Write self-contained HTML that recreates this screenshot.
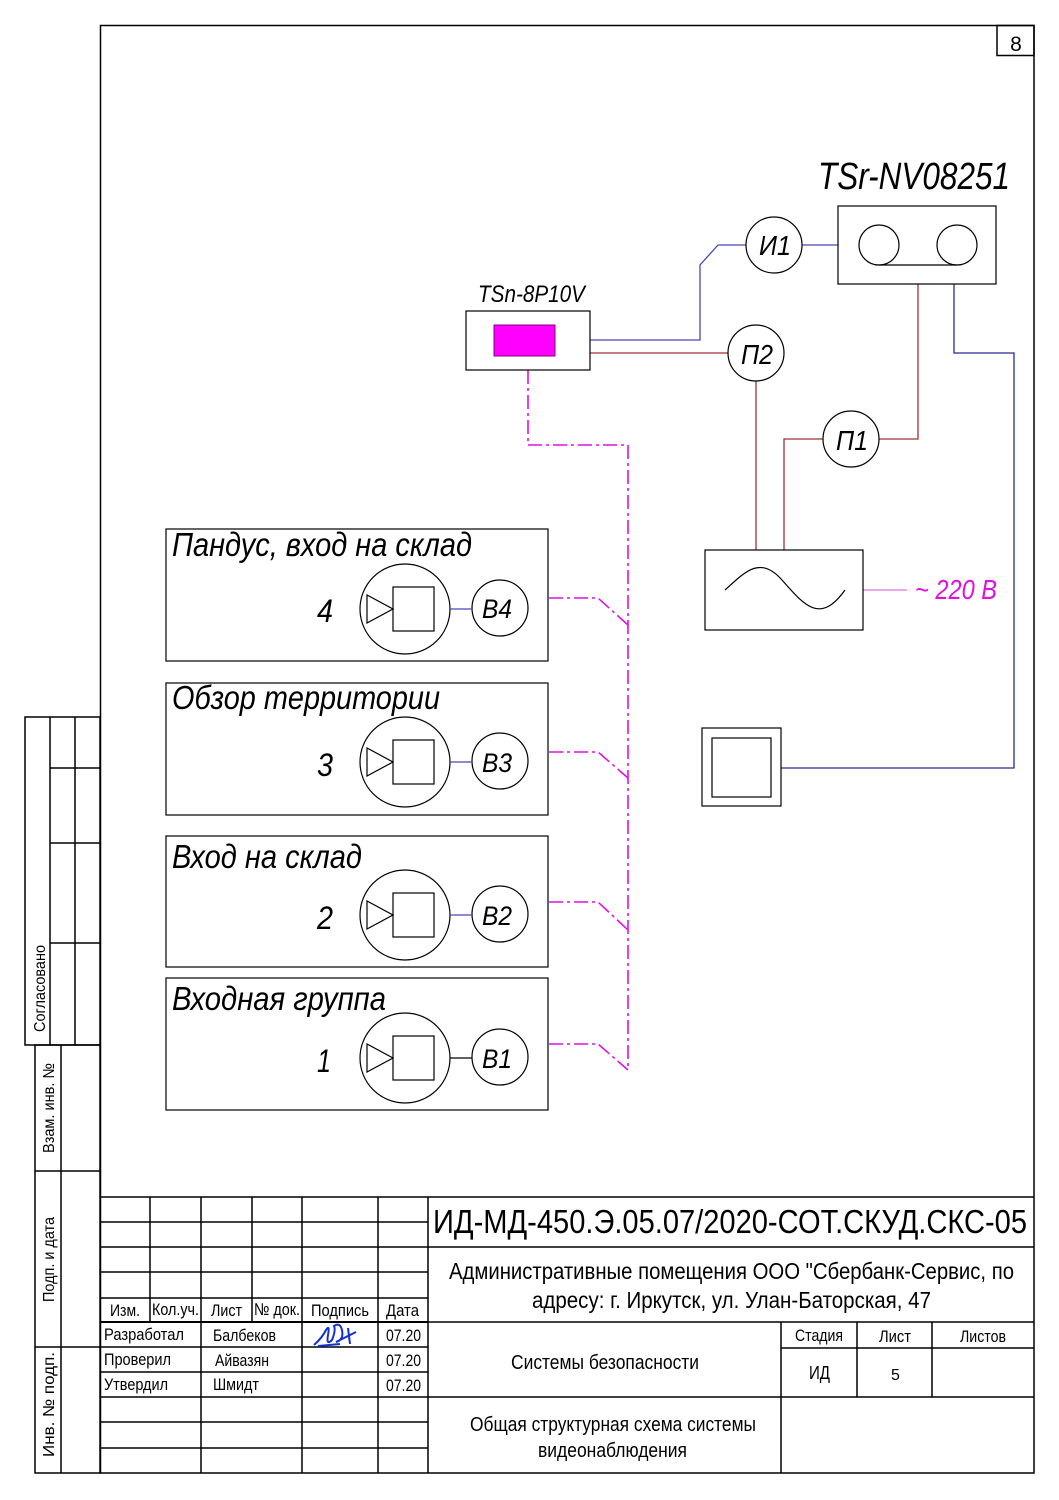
<!DOCTYPE html>
<html><head><meta charset="utf-8">
<style>
html,body{margin:0;padding:0;background:#fff;}
svg{display:block;}
text{font-family:"Liberation Sans",sans-serif;fill:#000;}
.it{font-style:italic;}
</style></head>
<body>
<svg width="1059" height="1500" viewBox="0 0 1059 1500" xmlns="http://www.w3.org/2000/svg">
<rect x="0" y="0" width="1059" height="1500" fill="#fff"/>
<g fill="none" stroke="#000" stroke-width="1.5">
<rect x="100.5" y="25.5" width="933.5" height="1447.5"/>
<rect x="997" y="25.5" width="37" height="30"/>
<rect x="25" y="717" width="75" height="328"/>
<line x1="50" y1="717" x2="50" y2="1045"/>
<line x1="75" y1="717" x2="75" y2="1045"/>
<line x1="50" y1="768" x2="100" y2="768"/>
<line x1="50" y1="843" x2="100" y2="843"/>
<line x1="50" y1="943" x2="100" y2="943"/>
<rect x="35" y="1045" width="65" height="428"/>
<line x1="61" y1="1045" x2="61" y2="1473"/>
<line x1="35" y1="1171" x2="100" y2="1171"/>
<line x1="35" y1="1347" x2="100" y2="1347"/>
</g>
<text x="1016" y="51" font-size="21" text-anchor="middle">8</text>
<text transform="translate(45,1032) rotate(-90)" font-size="16" textLength="87" lengthAdjust="spacingAndGlyphs">Согласовано</text>
<text transform="translate(54,1153) rotate(-90)" font-size="16" textLength="90" lengthAdjust="spacingAndGlyphs">Взам. инв. №</text>
<text transform="translate(54,1302) rotate(-90)" font-size="16" textLength="85" lengthAdjust="spacingAndGlyphs">Подп. и дата</text>
<text transform="translate(54,1457) rotate(-90)" font-size="16" textLength="105" lengthAdjust="spacingAndGlyphs">Инв. № подп.</text>

<g fill="none" stroke="#000" stroke-width="1.5">
<line x1="100" y1="1197" x2="1034" y2="1197"/>
<line x1="428" y1="1197" x2="428" y2="1473"/>
<line x1="150" y1="1197" x2="150" y2="1322"/>
<line x1="252" y1="1197" x2="252" y2="1322"/>
<line x1="201" y1="1197" x2="201" y2="1473"/>
<line x1="302" y1="1197" x2="302" y2="1473"/>
<line x1="378" y1="1197" x2="378" y2="1473"/>
<line x1="100" y1="1222" x2="428" y2="1222"/>
<line x1="100" y1="1247" x2="428" y2="1247"/>
<line x1="100" y1="1272" x2="428" y2="1272"/>
<line x1="100" y1="1298" x2="428" y2="1298"/>
<line x1="100" y1="1322" x2="428" y2="1322" stroke-width="2"/>
<line x1="100" y1="1347" x2="428" y2="1347"/>
<line x1="100" y1="1372" x2="428" y2="1372"/>
<line x1="100" y1="1397" x2="428" y2="1397"/>
<line x1="100" y1="1422" x2="428" y2="1422"/>
<line x1="100" y1="1448" x2="428" y2="1448"/>
<line x1="428" y1="1247" x2="1034" y2="1247"/>
<line x1="428" y1="1322" x2="1034" y2="1322"/>
<line x1="428" y1="1397" x2="1034" y2="1397"/>
<line x1="781" y1="1322" x2="781" y2="1473"/>
<line x1="857" y1="1322" x2="857" y2="1397"/>
<line x1="932" y1="1322" x2="932" y2="1397"/>
<line x1="781" y1="1348" x2="1034" y2="1348"/>
</g>
<text x="433" y="1233" font-size="33" textLength="594" lengthAdjust="spacingAndGlyphs">ИД-МД-450.Э.05.07/2020-СОТ.СКУД.СКС-05</text>
<text x="449" y="1279" font-size="23" textLength="565" lengthAdjust="spacingAndGlyphs">Административные помещения ООО "Сбербанк-Сервис, по</text>
<text x="532" y="1308" font-size="23" textLength="399" lengthAdjust="spacingAndGlyphs">адресу: г. Иркутск, ул. Улан-Баторская, 47</text>
<text x="511" y="1369" font-size="20" textLength="188" lengthAdjust="spacingAndGlyphs">Системы безопасности</text>
<text x="470" y="1431" font-size="20" textLength="286" lengthAdjust="spacingAndGlyphs">Общая структурная схема системы</text>
<text x="538" y="1457" font-size="20" textLength="149" lengthAdjust="spacingAndGlyphs">видеонаблюдения</text>
<text x="795" y="1341" font-size="17" textLength="48" lengthAdjust="spacingAndGlyphs">Стадия</text>
<text x="879" y="1342" font-size="17" textLength="32" lengthAdjust="spacingAndGlyphs">Лист</text>
<text x="960" y="1342" font-size="17" textLength="46" lengthAdjust="spacingAndGlyphs">Листов</text>
<text x="809" y="1379" font-size="18" textLength="21" lengthAdjust="spacingAndGlyphs">ИД</text>
<text x="891" y="1380" font-size="16">5</text>

<text x="110" y="1316" font-size="17" textLength="30" lengthAdjust="spacingAndGlyphs">Изм.</text>
<text x="152" y="1315" font-size="17" textLength="47" lengthAdjust="spacingAndGlyphs">Кол.уч.</text>
<text x="211" y="1316" font-size="17" textLength="31" lengthAdjust="spacingAndGlyphs">Лист</text>
<text x="254" y="1315" font-size="17" textLength="46" lengthAdjust="spacingAndGlyphs">№ док.</text>
<text x="311" y="1316" font-size="17" textLength="58" lengthAdjust="spacingAndGlyphs">Подпись</text>
<text x="386" y="1316" font-size="17" textLength="33" lengthAdjust="spacingAndGlyphs">Дата</text>
<text x="104" y="1340" font-size="17" textLength="80" lengthAdjust="spacingAndGlyphs">Разработал</text>
<text x="213" y="1341" font-size="17" textLength="63" lengthAdjust="spacingAndGlyphs">Балбеков</text>
<text x="386" y="1341" font-size="17" textLength="35" lengthAdjust="spacingAndGlyphs">07.20</text>
<text x="104" y="1365" font-size="17" textLength="67" lengthAdjust="spacingAndGlyphs">Проверил</text>
<text x="215" y="1366" font-size="17" textLength="54" lengthAdjust="spacingAndGlyphs">Айвазян</text>
<text x="386" y="1366" font-size="17" textLength="35" lengthAdjust="spacingAndGlyphs">07.20</text>
<text x="104" y="1390" font-size="17" textLength="64" lengthAdjust="spacingAndGlyphs">Утвердил</text>
<text x="213" y="1390" font-size="17" textLength="46" lengthAdjust="spacingAndGlyphs">Шмидт</text>
<text x="386" y="1391" font-size="17" textLength="35" lengthAdjust="spacingAndGlyphs">07.20</text>
<path d="M314,1345 Q322,1338 326,1330 Q330,1324 328,1335 Q326,1346 332,1340 Q336,1330 334,1326 Q340,1322 342,1330 Q344,1340 336,1342 L356,1332 M348,1328 L350,1344 M318,1346 L340,1344" fill="none" stroke="#1530d0" stroke-width="2"/>

<g fill="none" stroke-width="1.3">
<path d="M590,340 H700 V265 L718,245 H746" stroke="#4848b0"/>
<path d="M802,245 H838" stroke="#4848b0"/>
<path d="M590,353 H728" stroke="#a03030"/>
<path d="M756,381 V550" stroke="#a03030"/>
<path d="M918,284 V439 H879" stroke="#a03030"/>
<path d="M823,439 H784 V550" stroke="#a03030"/>
<path d="M954,284 V353 H1014 V768 H781" stroke="#2a2a90"/>
<path d="M863,590 H907" stroke="#e070e0"/>
<g stroke="#e010e0" stroke-width="1.6" stroke-dasharray="14,4,3,4">
<path d="M528,370 V445 H628 V1070"/>
<path d="M549,598 H598 L628,625"/>
<path d="M549,752 H598 L628,778"/>
<path d="M549,902 H598 L628,930"/>
<path d="M549,1044 H598 L628,1070"/>
</g>
</g>

<text x="818" y="189" font-size="38" class="it" textLength="192" lengthAdjust="spacingAndGlyphs">TSr-NV08251</text>
<g fill="none" stroke="#000" stroke-width="1.2">
<rect x="838" y="206" width="158" height="78"/>
<circle cx="879" cy="245" r="20"/>
<circle cx="957" cy="245" r="20"/>
<line x1="879" y1="265" x2="957" y2="265"/>
<circle cx="774" cy="245" r="28"/>
<circle cx="756" cy="353" r="28"/>
<circle cx="851" cy="439" r="28"/>
<rect x="466" y="311" width="124" height="59"/>
<rect x="705" y="550" width="158" height="80"/>
<path d="M725,590 C745,572 760,555 782,580 S820,625 845,590"/>
<rect x="702" y="728" width="79" height="78"/>
<rect x="712" y="738" width="59" height="59"/>
</g>
<rect x="494" y="325" width="61" height="31" fill="#ff00ff" stroke="#800080" stroke-width="1"/>
<text x="478" y="302" font-size="24" class="it" textLength="107" lengthAdjust="spacingAndGlyphs">TSn-8P10V</text>
<text x="759" y="255" font-size="28" class="it" textLength="32" lengthAdjust="spacingAndGlyphs">И1</text>
<text x="741" y="364" font-size="28" class="it" textLength="32" lengthAdjust="spacingAndGlyphs">П2</text>
<text x="836" y="450" font-size="28" class="it" textLength="32" lengthAdjust="spacingAndGlyphs">П1</text>
<text x="915" y="599" font-size="28" class="it" style="fill:#e010e0" textLength="82" lengthAdjust="spacingAndGlyphs">~ 220 В</text>

<g fill="none" stroke="#000" stroke-width="1.2">
<rect x="166" y="529" width="382" height="132"/>
<rect x="166" y="683" width="382" height="132"/>
<rect x="166" y="836" width="382" height="131"/>
<rect x="166" y="978" width="382" height="132"/>
</g>
<g id="cam" fill="none" stroke="#000" stroke-width="1.2">
<circle cx="405" cy="609" r="45"/>
<path d="M367,595 V623 L393,609 Z"/>
<rect x="393" y="587" width="41" height="44"/>
<circle cx="500" cy="608" r="28"/>
</g>
<use href="#cam" transform="translate(0,153)"/>
<use href="#cam" transform="translate(0,306)"/>
<use href="#cam" transform="translate(0,449)"/>
<g stroke-width="1.3">
<line x1="450" y1="609" x2="472" y2="609" stroke="#4848b0"/>
<line x1="450" y1="762" x2="472" y2="762" stroke="#4848b0"/>
<line x1="450" y1="915" x2="472" y2="915" stroke="#4848b0"/>
<line x1="450" y1="1058" x2="472" y2="1058" stroke="#000"/>
</g>
<text x="172" y="556" font-size="33" class="it" textLength="300" lengthAdjust="spacingAndGlyphs">Пандус, вход на склад</text>
<text x="172" y="709" font-size="33" class="it" textLength="268" lengthAdjust="spacingAndGlyphs">Обзор территории</text>
<text x="172" y="868" font-size="33" class="it" textLength="190" lengthAdjust="spacingAndGlyphs">Вход на склад</text>
<text x="172" y="1010" font-size="33" class="it" textLength="214" lengthAdjust="spacingAndGlyphs">Входная группа</text>
<text x="317" y="622" font-size="32" class="it" textLength="16" lengthAdjust="spacingAndGlyphs">4</text>
<text x="317" y="776" font-size="32" class="it" textLength="16" lengthAdjust="spacingAndGlyphs">3</text>
<text x="317" y="929" font-size="32" class="it" textLength="16" lengthAdjust="spacingAndGlyphs">2</text>
<text x="317" y="1072" font-size="32" class="it" textLength="14" lengthAdjust="spacingAndGlyphs">1</text>
<text x="482" y="618" font-size="27" class="it" textLength="30" lengthAdjust="spacingAndGlyphs">В4</text>
<text x="482" y="772" font-size="27" class="it" textLength="30" lengthAdjust="spacingAndGlyphs">В3</text>
<text x="482" y="925" font-size="27" class="it" textLength="30" lengthAdjust="spacingAndGlyphs">В2</text>
<text x="482" y="1068" font-size="27" class="it" textLength="30" lengthAdjust="spacingAndGlyphs">В1</text>
</svg>
</body></html>
